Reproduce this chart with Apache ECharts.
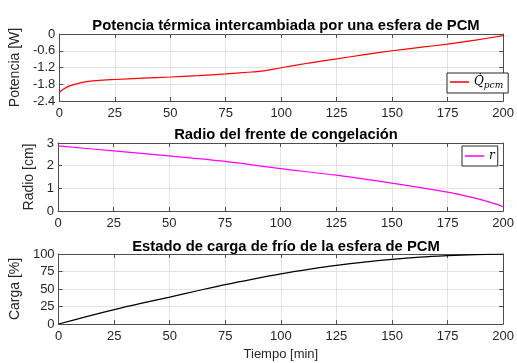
<!DOCTYPE html>
<html><head><meta charset="utf-8">
<script src="https://cdn.jsdelivr.net/npm/echarts@6/dist/echarts.min.js"></script>
<style>html,body{margin:0;padding:0;background:#fff}#c{width:517px;height:363px}</style>
</head><body><div id="c"></div>
<script>
// Potencia térmica (W)
var tQ = [0, 2, 5, 10, 15, 20, 25, 37.5, 50, 62.5, 75, 85, 91, 100, 112.5, 125, 137.5, 150, 162.5, 175, 187.5, 200];
var qPcm = [-2.09, -1.97, -1.85, -1.74, -1.68, -1.65, -1.63, -1.58, -1.54, -1.49, -1.43, -1.37, -1.33, -1.21, -1.04, -0.89, -0.74, -0.60, -0.48, -0.36, -0.22, -0.06];
// Radio del frente (cm)
var tR = [0, 25, 50, 75, 100, 125, 150, 175, 185, 190, 195, 198, 200];
var radio = [2.87, 2.65, 2.43, 2.19, 1.87, 1.58, 1.23, 0.83, 0.62, 0.50, 0.36, 0.27, 0.19];
// Estado de carga (%)
var tC = [0, 12.5, 25, 37.5, 50, 62.5, 75, 87.5, 100, 112.5, 125, 137.5, 150, 162.5, 175, 187.5, 200];
var carga = [0, 10.5, 20.6, 29.8, 38.5, 47.5, 56.3, 64.2, 71.6, 78.0, 83.7, 88.5, 92.4, 95.5, 97.6, 99.2, 100];

var titles = ['Potencia térmica intercambiada por una esfera de PCM', 'Radio del frente de congelación', 'Estado de carga de frío de la esfera de PCM'];
var yNames = ['Potencia [W]', 'Radio [cm]', 'Carga [%]'];

function pairs(x, y) { return x.map(function (v, i) { return [v, y[i]]; }); }

var FONT = 'Liberation Sans, Arial, Helvetica, sans-serif';
var AX = '#4d4d4d';
var GRIDC = '#e3e3e3';
var grids = [
  {left: 58, right: 12, top: 34, height: 67},
  {left: 58, right: 12, top: 143, height: 68},
  {left: 58, right: 12, top: 254, height: 70}
];
var yCfg = [
  {min: -2.4, max: 0, interval: 0.6, gap: 34},
  {min: 0, max: 3, interval: 1, gap: 15},
  {min: 0, max: 100, interval: 25, gap: 32}
];
var xAxes = [], yAxes = [];
grids.forEach(function (g, i) {
  xAxes.push({
    type: 'value', gridIndex: i, min: 0, max: 200, interval: 25, position: 'bottom',
    axisLine: {show: true, onZero: false, lineStyle: {color: AX, width: 1}},
    axisTick: {show: true, inside: true, length: 4, lineStyle: {color: AX}},
    axisLabel: {color: '#262626', fontSize: 13, fontFamily: FONT, margin: 6},
    splitLine: {show: true, lineStyle: {color: GRIDC, width: 1}},
    name: i === 2 ? 'Tiempo [min]' : '', nameLocation: 'middle', nameGap: 24,
    nameTextStyle: {color: '#262626', fontSize: 13, fontFamily: FONT}
  });
  xAxes.push({
    type: 'value', gridIndex: i, min: 0, max: 200, interval: 25, position: 'top',
    axisLine: {show: true, onZero: false, lineStyle: {color: AX, width: 1}},
    axisTick: {show: true, inside: true, length: 4, lineStyle: {color: AX}},
    axisLabel: {show: false}, splitLine: {show: false}
  });
  var c = yCfg[i];
  yAxes.push({
    type: 'value', gridIndex: i, min: c.min, max: c.max, interval: c.interval, position: 'left',
    axisLine: {show: true, onZero: false, lineStyle: {color: AX, width: 1}},
    axisTick: {show: true, inside: true, length: 4, lineStyle: {color: AX}},
    axisLabel: {color: '#262626', fontSize: 13, fontFamily: FONT, margin: 4,
      formatter: function (v) { return String(Math.round(v * 10) / 10); }},
    splitLine: {show: true, lineStyle: {color: GRIDC, width: 1}},
    name: yNames[i], nameLocation: 'middle', nameGap: c.gap, nameRotate: 90,
    nameTextStyle: {color: '#262626', fontSize: 14, fontFamily: FONT}
  });
  yAxes.push({
    type: 'value', gridIndex: i, min: c.min, max: c.max, interval: c.interval, position: 'right',
    axisLine: {show: true, onZero: false, lineStyle: {color: AX, width: 1}},
    axisTick: {show: true, inside: true, length: 4, lineStyle: {color: AX}},
    axisLabel: {show: false}, splitLine: {show: false}
  });
});

var titleTops = [13, 122, 234];
var option = {
  animation: false,
  backgroundColor: '#fff',
  title: titles.map(function (t, i) {
    return {text: t, left: 281, textAlign: 'center', top: titleTops[i],
      textStyle: {fontSize: 14.8, fontWeight: 'bold', color: '#000', fontFamily: FONT}};
  }),
  grid: grids,
  xAxis: xAxes,
  yAxis: yAxes,
  legend: [
    {data: ['Qpcm'], left: 447, top: 73, orient: 'vertical', backgroundColor: '#fff',
      borderColor: '#262626', borderWidth: 1, borderRadius: 0, padding: [3, 5, 3, 3],
      icon: 'rect', itemWidth: 19, itemHeight: 1.5, itemGap: 2,
      formatter: function () { return '{q|Q\u0307}{s|pcm}'; },
      textStyle: {rich: {
        q: {fontFamily: 'DejaVu Serif', fontStyle: 'italic', fontSize: 12, color: '#000'},
        s: {fontFamily: 'DejaVu Serif', fontStyle: 'italic', fontSize: 9, color: '#000', padding: [7, 0, 0, 0]}
      }}},
    {data: ['r'], left: 462, top: 146, orient: 'vertical', backgroundColor: '#fff',
      borderColor: '#262626', borderWidth: 1, borderRadius: 0, padding: [4, 3, 4, 3],
      icon: 'rect', itemWidth: 19, itemHeight: 1.5, itemGap: 2,
      textStyle: {fontFamily: 'DejaVu Serif', fontStyle: 'italic', fontSize: 12, color: '#000'}}
  ],
  series: [
    {name: 'Qpcm', type: 'line', xAxisIndex: 0, yAxisIndex: 0, data: pairs(tQ, qPcm),
      smooth: 0.3, symbol: 'none', lineStyle: {color: '#ff0000', width: 1.2}, itemStyle: {color: '#ff0000'}},
    {name: 'r', type: 'line', xAxisIndex: 2, yAxisIndex: 2, data: pairs(tR, radio),
      smooth: 0.3, symbol: 'none', lineStyle: {color: '#ff00ff', width: 1.2}, itemStyle: {color: '#ff00ff'}},
    {name: 'carga', type: 'line', xAxisIndex: 4, yAxisIndex: 4, data: pairs(tC, carga),
      smooth: 0.3, symbol: 'none', lineStyle: {color: '#000', width: 1.2}, itemStyle: {color: '#000'}}
  ]
};
var chart = echarts.init(document.getElementById('c'), null, {renderer: 'canvas'});
chart.setOption(option);
</script></body></html>
